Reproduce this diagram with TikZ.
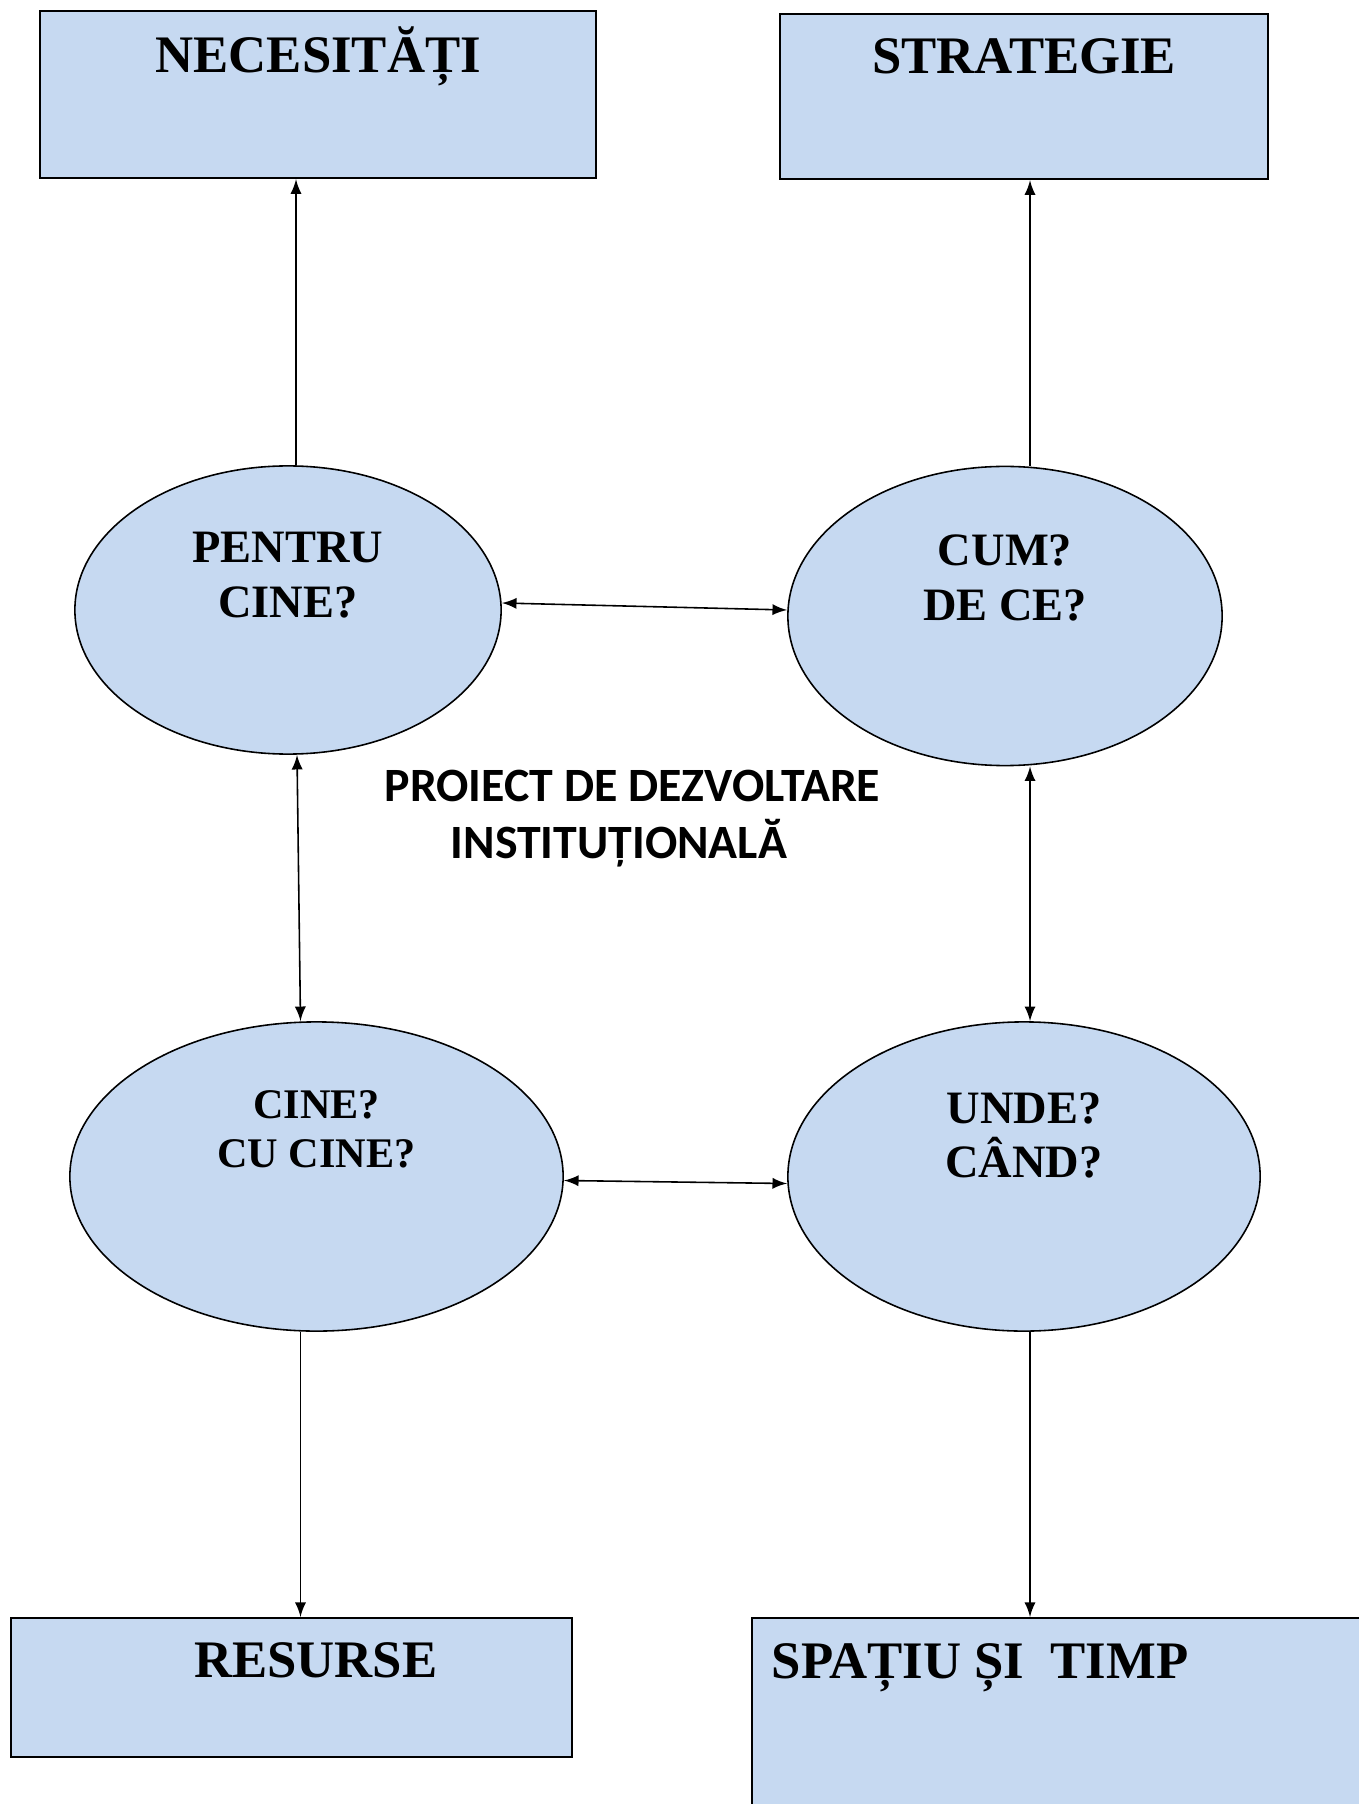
\documentclass[tikz,border=0pt]{standalone}
\usepackage{fontspec}
\setmainfont{Liberation Serif}
\newfontfamily\calibri{Carlito}
\usepackage{tikz}
\usetikzlibrary{shapes.geometric}
\definecolor{paleblue}{RGB}{198,217,241}

\begin{document}
\begin{tikzpicture}[x=0.01cm, y=-0.01cm,
  box/.style={draw, line width=0.6pt, fill=paleblue, anchor=north west, inner sep=0},
  oval/.style={draw, ellipse, line width=0.45pt, fill=paleblue, inner sep=0},
  boxtext/.style={font=\fontsize{15}{18}\selectfont\bfseries, anchor=base, inner sep=0},
  ovaltext/.style={font=\fontsize{13.2}{15.6}\selectfont\bfseries, align=center, inner sep=0},
  link/.style={line width=0.45pt}]
\useasboundingbox (0,0) rectangle (1358,1804);

\node[box, minimum width=5.56cm, minimum height=1.67cm] (nec) at (39,10) {};
\node[boxtext] (nect) at ([yshift=-0.62cm]nec.north) {NECESITĂȚI};

\node[box, minimum width=4.88cm, minimum height=1.65cm] (str) at (779,13) {};
\node[boxtext] (strt) at ([yshift=-0.60cm]str.north) {STRATEGIE};

\node[box, minimum width=5.61cm, minimum height=1.39cm] (res) at (10,1617) {};
\node[boxtext] (rest) at ([xshift=0.24cm,yshift=-0.60cm]res.north) {RESURSE};

\node[box, minimum width=7cm, minimum height=3cm] (spt) at (751,1617) {};
\node[boxtext, anchor=base west] (sptt) at ([xshift=0.20cm,yshift=-0.61cm]spt.north west) {SPAȚIU ȘI\ \ TIMP};

\node[oval, minimum width=4.26cm, minimum height=2.88cm] (pc) at (288,610) {};
\node[ovaltext] (pct) at ([yshift=0.35cm]pc) {PENTRU\\CINE?};

\node[oval, minimum width=4.34cm, minimum height=2.99cm] (cd) at (1005,616) {};
\node[ovaltext] (cdt) at ([yshift=0.38cm]cd) {CUM?\\DE CE?};

\node[oval, minimum width=4.93cm, minimum height=3.09cm] (cc) at (316.5,1176.5) {};
\node[ovaltext, font=\fontsize{12}{14.1}\selectfont\bfseries] (cct) at ([yshift=0.47cm]cc) {CINE?\\CU CINE?};

\node[oval, minimum width=4.72cm, minimum height=3.09cm] (uc) at (1024,1176.5) {};
\node[ovaltext] (uct) at ([yshift=0.41cm]uc) {UNDE?\\CÂND?};

\node[font=\calibri\fontsize{13.6}{16.2}\selectfont\bfseries, align=left, anchor=north west, inner sep=0] (pdi) at (384,769) {PROIECT DE DEZVOLTARE\\\hspace*{0.66cm}INSTITUȚIONALĂ};

\draw[link, -latex] ([xshift=0.08cm]pc.north) -- ([xshift=0.08cm]pc.north |- nec.south);
\draw[link, -latex] ([xshift=0.25cm]cd.north) -- ([xshift=0.25cm]cd.north |- str.south);
\draw[link, latex-latex] ([yshift=0.07cm]pc.east) -- ([yshift=0.06cm]cd.west);
\draw[link, latex-latex] ([xshift=0.09cm]pc.south) -- ([xshift=-0.16cm]cc.north);
\draw[link, latex-latex] ([xshift=0.25cm]cd.south) -- ([xshift=0.06cm]uc.north);
\draw[link, latex-latex] ([yshift=-0.04cm]cc.east) -- ([yshift=-0.07cm]uc.west);
\draw[link, -latex] ([xshift=-0.16cm]cc.south) -- ([xshift=-0.16cm]cc.south |- res.north);
\draw[link, -latex] ([xshift=0.06cm]uc.south) -- ([xshift=0.06cm]uc.south |- spt.north);

\end{tikzpicture}
\end{document}
